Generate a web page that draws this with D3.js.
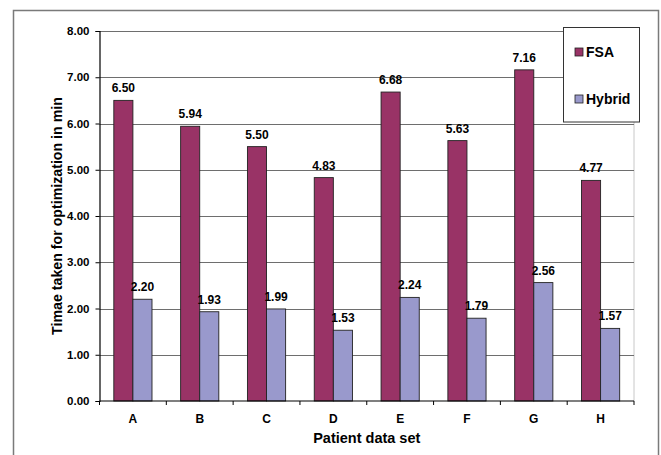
<!DOCTYPE html>
<html>
<head>
<meta charset="utf-8">
<script src="https://cdn.jsdelivr.net/npm/d3@7"></script>
<style>
  html, body { margin: 0; padding: 0; background: #fff; }
  svg { display: block; }
  text { font-family: "Liberation Sans", Arial, sans-serif; font-weight: bold; fill: #000; }
</style>
</head>
<body>
<svg id="chart" width="661" height="455"></svg>
<script>
// Optimisation time per patient data set, in minutes
const categories = ["A", "B", "C", "D", "E", "F", "G", "H"];
const seriesNames = ["FSA", "Hybrid"];
const fsaValues = [6.50, 5.94, 5.50, 4.83, 6.68, 5.63, 7.16, 4.77];
const hybridValues = [2.20, 1.93, 1.99, 1.53, 2.24, 1.79, 2.56, 1.57];
const yTicks = [0, 1, 2, 3, 4, 5, 6, 7, 8];
const colors = ["#993366", "#9999cc"];

const seriesValues = [fsaValues, hybridValues];

const svg = d3.select("#chart");

// outer frame
svg.append("rect")
  .attr("x", 13.5).attr("y", 10.5)
  .attr("width", 645).attr("height", 460)
  .attr("fill", "none").attr("stroke", "#7a7a7a").attr("stroke-width", 1.5);

const plot = { left: 99.5, right: 634, top: 31, bottom: 401 };

const x = d3.scaleBand()
  .domain(categories)
  .range([plot.left, plot.right])
  .paddingInner(0).paddingOuter(0);

const y = d3.scaleLinear()
  .domain([0, 8])
  .range([plot.bottom, plot.top]);

// bar width follows a 150% gap between groups
const barW = x.bandwidth() / 3.5;
const xs = d3.scaleBand()
  .domain(seriesNames)
  .range([0, barW * 2]);

// plot area right border
svg.append("line")
  .attr("x1", plot.right).attr("x2", plot.right)
  .attr("y1", plot.top).attr("y2", plot.bottom)
  .attr("stroke", "#c8c8c8").attr("stroke-width", 1);

// horizontal gridlines
svg.append("g")
  .selectAll("line")
  .data(yTicks.filter(d => d > 0))
  .join("line")
  .attr("x1", plot.left).attr("x2", plot.right)
  .attr("y1", d => Math.round(y(d)) + 0.5).attr("y2", d => Math.round(y(d)) + 0.5)
  .attr("stroke", "#6e6e6e").attr("stroke-width", 1.2);

// bars
const groups = svg.append("g")
  .selectAll("g")
  .data(categories)
  .join("g")
  .attr("transform", d => `translate(${x(d) + (x.bandwidth() - barW * 2) / 2},0)`);

groups.selectAll("rect")
  .data((c, i) => seriesNames.map((s, k) => ({ s, k, v: seriesValues[k][i] })))
  .join("rect")
  .attr("x", d => xs(d.s))
  .attr("y", d => y(d.v))
  .attr("width", barW)
  .attr("height", d => y(0) - y(d.v))
  .attr("fill", d => colors[d.k])
  .attr("stroke", "#222")
  .attr("stroke-width", 0.9);

groups.selectAll("text")
  .data((c, i) => seriesNames.map((s, k) => ({ s, k, v: seriesValues[k][i] })))
  .join("text")
  .attr("x", d => xs(d.s) + barW / 2)
  .attr("y", d => y(d.v) - 8)
  .attr("text-anchor", "middle")
  .attr("font-size", 12)
  .text(d => d.v.toFixed(2));

// y axis
const yAxis = svg.append("g")
  .attr("transform", `translate(${plot.left},0)`)
  .call(d3.axisLeft(y).tickValues(yTicks).tickFormat(d3.format(".2f")).tickSize(4).tickPadding(6));
yAxis.select(".domain").attr("stroke", "#000").attr("stroke-width", 1.2);
yAxis.selectAll(".tick line").attr("stroke", "#000");
yAxis.selectAll("text").attr("font-size", 11.5).attr("font-family", "Liberation Sans, Arial, sans-serif").attr("font-weight", "bold");

// x axis: ticks sit on category boundaries
const xAxis = svg.append("g")
  .attr("transform", `translate(0,${plot.bottom})`);
xAxis.append("line")
  .attr("x1", plot.left).attr("x2", plot.right)
  .attr("y1", 0).attr("y2", 0)
  .attr("stroke", "#000").attr("stroke-width", 1.2);
xAxis.selectAll(".tick-b")
  .data(categories.map(c => x(c)).concat([plot.right]))
  .join("line")
  .attr("x1", d => d).attr("x2", d => d)
  .attr("y1", 0).attr("y2", 4)
  .attr("stroke", "#000");
xAxis.selectAll("text")
  .data(categories)
  .join("text")
  .attr("x", d => x(d) + x.bandwidth() / 2)
  .attr("y", 22)
  .attr("text-anchor", "middle")
  .attr("font-size", 12)
  .text(d => d);

// axis titles
svg.append("text")
  .attr("x", (plot.left + plot.right) / 2)
  .attr("y", 443)
  .attr("text-anchor", "middle")
  .attr("font-size", 14.5)
  .text("Patient data set");

svg.append("text")
  .attr("transform", `translate(62,${(plot.top + plot.bottom) / 2}) rotate(-90)`)
  .attr("text-anchor", "middle")
  .attr("font-size", 14.2)
  .text("Timae taken for optimization in min");

// legend
const legend = svg.append("g");
legend.append("rect")
  .attr("x", 563.5).attr("y", 27.5)
  .attr("width", 76).attr("height", 94.5)
  .attr("fill", "#fff").attr("stroke", "#333").attr("stroke-width", 1);
const items = legend.selectAll("g")
  .data(seriesNames)
  .join("g")
  .attr("transform", (d, i) => `translate(575,${48 + i * 47})`);
items.append("rect")
  .attr("width", 8).attr("height", 8)
  .attr("fill", (d, i) => colors[i])
  .attr("stroke", "#222").attr("stroke-width", 0.8);
items.append("text")
  .attr("x", 11).attr("y", 9)
  .attr("font-size", 14)
  .text(d => d);
</script>
</body>
</html>
